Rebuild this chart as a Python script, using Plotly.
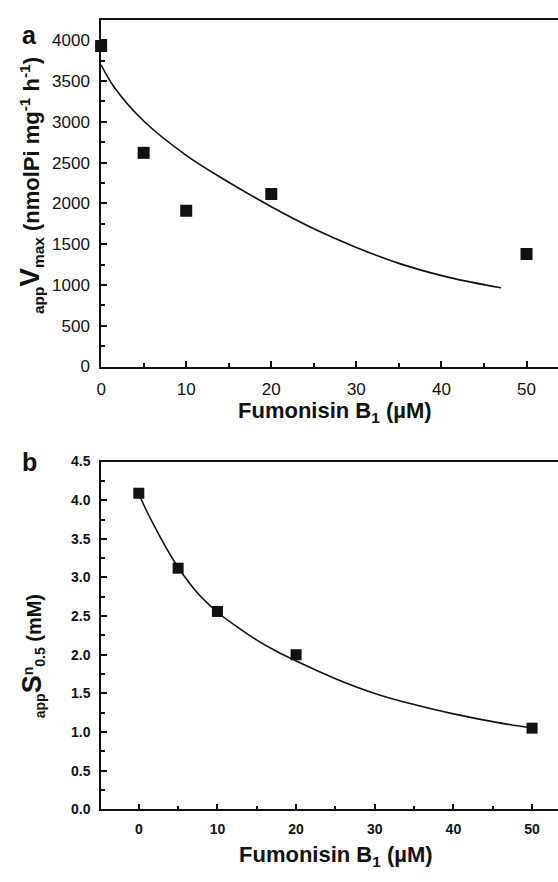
import plotly.graph_objects as go

# ---- data: panel a ----
fb1_a = [0, 5, 10, 20, 50]
vmax_a = [3930, 2620, 1910, 2115, 1380]
fit_x_a = [0, 1.5, 5, 10, 15, 20, 25, 30, 35, 41, 47]
fit_y_a = [3700, 3430, 3010, 2590, 2260, 1960, 1690, 1460, 1265, 1090, 965]

# ---- data: panel b ----
fb1_b = [0, 5, 10, 20, 50]
s05_b = [4.09, 3.12, 2.56, 2.00, 1.05]
fit_x_b = [0, 1, 2, 3.5, 5, 6.5, 8, 10, 12.5, 15, 17.5, 20, 25, 30, 35, 40, 45, 50]
fit_y_b = [4.08, 3.86, 3.66, 3.38, 3.13, 2.92, 2.74, 2.55, 2.36, 2.19, 2.045, 1.92, 1.69, 1.50, 1.355, 1.235, 1.135, 1.05]

W, H = 558, 882
FONT = "Liberation Sans, Arial, Helvetica, sans-serif"

fig = go.Figure()
fig.add_trace(go.Scatter(x=fit_x_a, y=fit_y_a, mode="lines", line=dict(color="#111", width=1.6, shape="spline"),
                         xaxis="x", yaxis="y", showlegend=False, hoverinfo="skip"))
fig.add_trace(go.Scatter(x=fb1_a, y=vmax_a, mode="markers", marker=dict(symbol="square", size=12, color="#111"),
                         xaxis="x", yaxis="y", showlegend=False, cliponaxis=False))
fig.add_trace(go.Scatter(x=fit_x_b, y=fit_y_b, mode="lines", line=dict(color="#111", width=1.6, shape="spline"),
                         xaxis="x2", yaxis="y2", showlegend=False, hoverinfo="skip"))
fig.add_trace(go.Scatter(x=fb1_b, y=s05_b, mode="markers", marker=dict(symbol="square", size=11, color="#111"),
                         xaxis="x2", yaxis="y2", showlegend=False, cliponaxis=False))

xdom = [97 / W, 1.0]
ydom_a = [1 - 366 / H, 1 - 12 / H]
ydom_b = [1 - 818 / H, 1 - 463 / H]

def ax(**kw):
    base = dict(showline=True, linecolor="#111", linewidth=1.6, showgrid=False, zeroline=False,
                ticks="inside", ticklen=6, tickwidth=1.5, tickcolor="#111", ticklabelstandoff=6)
    base.update(kw)
    return base

fig.update_layout(
    width=W, height=H, margin=dict(l=0, r=0, t=0, b=0),
    paper_bgcolor="white", plot_bgcolor="white",
    font=dict(family=FONT, color="#111"),
    xaxis=ax(domain=xdom, anchor="y", range=[0, 53.7], tick0=0, dtick=10, mirror=True,
             minor=dict(ticks="inside", ticklen=4, tickwidth=1.5, dtick=5, tick0=0, tickcolor="#111"),
             tickfont=dict(size=17, family=FONT)),
    yaxis=ax(domain=ydom_a, anchor="x", range=[0, 4252], tick0=0, dtick=500,
             minor=dict(ticks="inside", ticklen=4, tickwidth=1.5, dtick=250, tick0=0, tickcolor="#111"),
             tickfont=dict(size=17, family=FONT)),
    xaxis2=ax(domain=xdom, anchor="y2", range=[-4.79, 53.3], tick0=0, dtick=10, mirror=True,
              minor=dict(ticks="inside", ticklen=4, tickwidth=1.5, dtick=5, tick0=0, tickcolor="#111"),
              tickfont=dict(size=14, family=FONT, weight="bold")),
    yaxis2=ax(domain=ydom_b, anchor="x2", range=[0, 4.5], tick0=0, dtick=0.5, tickformat=".1f",
              minor=dict(ticks="inside", ticklen=4, tickwidth=1.5, dtick=0.25, tick0=0, tickcolor="#111"),
              tickfont=dict(size=14, family=FONT, weight="bold")),
)

bold = dict(family=FONT, color="#111", weight="bold")
annots = [
    dict(text="a", x=25 / W, y=1 - 28 / H, font=dict(size=25, **bold)),
    dict(text="b", x=25 / W, y=1 - 463 / H, font=dict(size=25, **bold)),
    dict(text="Fumonisin B<sub>1</sub> (µM)", x=333 / W, y=1 - 412 / H, font=dict(size=22, **bold)),
    dict(text="Fumonisin B<sub>1</sub> (µM)", x=334 / W, y=1 - 866 / H, font=dict(size=22, **bold)),
    dict(text="<sub>app</sub><span style='font-size:28px'>V</span><sub>max</sub> (nmolPi mg<sup>-1</sup> h<sup>-1</sup>)",
         x=26 / W, y=1 - 181 / H, textangle=-90, font=dict(size=22, **bold)),
    dict(text="<sub>app</sub><span style='font-size:27px'>S</span><sup>n</sup><sub>0.5</sub> (mM)",
         x=28 / W, y=1 - 662 / H, textangle=-90, font=dict(size=20, **bold)),
]
for a in annots:
    fig.add_annotation(xref="paper", yref="paper", showarrow=False, xanchor="center", yanchor="middle", **a)

fig.write_html("out.html")
